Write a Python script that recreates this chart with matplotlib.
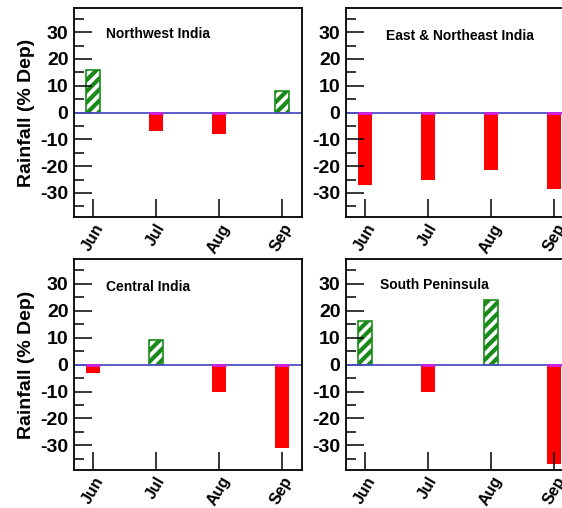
import matplotlib
matplotlib.use("Agg")
import matplotlib.pyplot as plt
from matplotlib.ticker import MultipleLocator

plt.rcParams['font.family'] = ['Liberation Sans', 'DejaVu Sans']
plt.rcParams['axes.unicode_minus'] = False
plt.rcParams['hatch.linewidth'] = 3.0

months = ['Jun', 'Jul', 'Aug', 'Sep']
regions = ['Northwest India', 'East & Northeast India', 'Central India', 'South Peninsula']
nw_india = [16, -7, -8, 8]
ene_india = [-27, -25, -21.5, -28.5]
central_india = [-3, 9, -10, -31]
south_pen = [16, -10, 24, -37]
yticks = [30, 20, 10, 0, -10, -20, -30]

series = [nw_india, ene_india, central_india, south_pen]
# axes rectangles in figure fraction (right column runs past the edge)
rects = [[0.1317, 0.5728, 0.4057, 0.4114],
         [0.6157, 0.5728, 0.4057, 0.4114],
         [0.1317, 0.0754, 0.4057, 0.4140],
         [0.6157, 0.0754, 0.4057, 0.4140]]
title_pos = [(0.14, 0.877), (0.175, 0.868), (0.14, 0.87), (0.149, 0.88)]

GREEN = '#1a8a1a'
RED = '#ff0000'
BAR_W = 0.22

fig = plt.figure(figsize=(5.62, 5.08), dpi=100)

for k in range(4):
    ax = fig.add_axes(rects[k])
    vals = series[k]
    x = list(range(len(months)))
    pos_x = [i for i, v in zip(x, vals) if v > 0]
    pos_v = [v for v in vals if v > 0]
    neg_x = [i for i, v in zip(x, vals) if v <= 0]
    neg_v = [v for v in vals if v <= 0]
    ax.bar(pos_x, pos_v, width=BAR_W, color='white', edgecolor=GREEN,
           hatch='///', linewidth=1.2, zorder=1)
    ax.bar(neg_x, neg_v, width=BAR_W, color=RED, edgecolor='none', zorder=1)
    ax.axhline(0, color='#5050c8', linewidth=1.3, zorder=2)
    for i in neg_x:
        ax.plot([i - BAR_W / 2, i + BAR_W / 2], [0, 0], color='#d020e0',
                linewidth=2, solid_capstyle='butt', zorder=3)

    ax.set_xlim(-0.3, 3.32)
    ax.set_ylim(-39, 39)
    ax.set_yticks(yticks)
    ax.set_yticklabels([str(t) for t in yticks], fontsize=14, fontweight='bold')
    ax.yaxis.set_minor_locator(MultipleLocator(5))
    ax.set_xticks(x)
    ax.set_xticklabels(months, rotation=60, ha='center', va='top', fontsize=11.5,
                       fontweight='bold')
    ax.tick_params(axis='y', which='major', direction='in', length=13, width=1.1, pad=4)
    ax.tick_params(axis='y', which='minor', direction='in', length=7, width=1.1)
    ax.tick_params(axis='x', which='major', direction='in', length=13, width=1.1, pad=3)
    for s in ax.spines.values():
        s.set_linewidth(1.3)
    ax.text(title_pos[k][0], title_pos[k][1], regions[k], transform=ax.transAxes,
            ha='left', va='center', fontsize=10, fontweight='bold')
    if k % 2 == 0:
        ax.set_ylabel('Rainfall (% Dep)', fontsize=14, fontweight='bold', labelpad=4)

fig.savefig('out.png', dpi=100)
